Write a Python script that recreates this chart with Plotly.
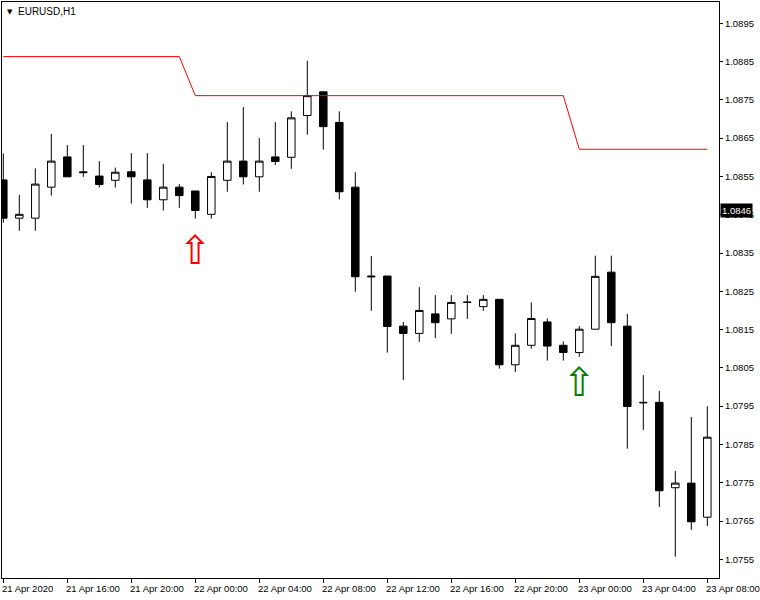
import pandas as pd
import plotly.graph_objects as go

# EURUSD H1 bars, 21 Apr 2020 12:00 .. 23 Apr 2020 08:00
times = pd.date_range("2020-04-21 12:00", periods=45, freq="h")
opens = [1.08541, 1.08441, 1.08441, 1.08522, 1.08601, 1.08562, 1.08551, 1.08540, 1.08562, 1.08541,
         1.08489, 1.08522, 1.08512, 1.08451, 1.08540, 1.08590, 1.08549, 1.08601, 1.08600, 1.08709,
         1.08771, 1.08691, 1.08522, 1.08290, 1.08290, 1.08159, 1.08140, 1.08191, 1.08178, 1.08222,
         1.08210, 1.08229, 1.08058, 1.08109, 1.08170, 1.08109, 1.08090, 1.08151, 1.08300, 1.08159,
         1.07960, 1.07960, 1.07737, 1.07749, 1.07660]
highs = [1.08610, 1.08502, 1.08571, 1.08661, 1.08632, 1.08632, 1.08590, 1.08573, 1.08611, 1.08611,
         1.08583, 1.08530, 1.08512, 1.08561, 1.08692, 1.08731, 1.08650, 1.08692, 1.08720, 1.08852,
         1.08771, 1.08720, 1.08561, 1.08342, 1.08290, 1.08170, 1.08261, 1.08240, 1.08240, 1.08240,
         1.08240, 1.08229, 1.08140, 1.08221, 1.08179, 1.08119, 1.08159, 1.08343, 1.08343, 1.08191,
         1.08031, 1.07990, 1.07781, 1.07922, 1.07950]
lows = [1.08429, 1.08408, 1.08408, 1.08500, 1.08549, 1.08549, 1.08521, 1.08521, 1.08479, 1.08468,
        1.08461, 1.08468, 1.08440, 1.08440, 1.08510, 1.08529, 1.08510, 1.08580, 1.08570, 1.08659,
        1.08620, 1.08490, 1.08249, 1.08199, 1.08090, 1.08018, 1.08118, 1.08128, 1.08139, 1.08178,
        1.08199, 1.08048, 1.08039, 1.08100, 1.08069, 1.08069, 1.08079, 1.08151, 1.08107, 1.07839,
        1.07888, 1.07687, 1.07557, 1.07627, 1.07637]
closes = [1.08441, 1.08451, 1.08530, 1.08590, 1.08549, 1.08560, 1.08529, 1.08561, 1.08549, 1.08489,
          1.08522, 1.08500, 1.08461, 1.08550, 1.08590, 1.08549, 1.08590, 1.08589, 1.08703, 1.08761,
          1.08680, 1.08510, 1.08288, 1.08288, 1.08158, 1.08140, 1.08200, 1.08168, 1.08221, 1.08221,
          1.08229, 1.08058, 1.08109, 1.08179, 1.08107, 1.08090, 1.08151, 1.08289, 1.08168, 1.07949,
          1.07959, 1.07729, 1.07749, 1.07648, 1.07869]

# indicator line (stepped level)
level = [1.08863] * 12 + [1.08761] * 24 + [1.08621] * 9

# signal arrows
buy_red_time = ["2020-04-22 00:00"]
buy_red_price = [1.08348]
buy_green_time = ["2020-04-23 00:00"]
buy_green_price = [1.08002]

last_price = 1.0846

ytick_vals = [round(1.0755 + 0.001 * k, 4) for k in range(15)]
xtick_vals = pd.date_range("2020-04-21 12:00", "2020-04-23 08:00", freq="4h")
xtick_text = ["21 Apr 2020", "21 Apr 16:00", "21 Apr 20:00", "22 Apr 00:00", "22 Apr 04:00",
              "22 Apr 08:00", "22 Apr 12:00", "22 Apr 16:00", "22 Apr 20:00", "23 Apr 00:00",
              "23 Apr 04:00", "23 Apr 08:00"]

FONT = "Liberation Sans"

fig = go.Figure()
fig.add_trace(go.Candlestick(
    x=times, open=opens, high=highs, low=lows, close=closes,
    increasing=dict(line=dict(color="black", width=1), fillcolor="white"),
    decreasing=dict(line=dict(color="black", width=1), fillcolor="black"),
    whiskerwidth=0, showlegend=False, hoverinfo="skip"))
fig.add_trace(go.Scatter(x=times, y=level, mode="lines",
                         line=dict(color="#ff0000", width=1), showlegend=False, hoverinfo="skip"))
fig.add_trace(go.Scatter(x=buy_red_time, y=buy_red_price, mode="text", text=["⇧"],
                         textfont=dict(family="DejaVu Sans", size=40, color="#ff0000"),
                         showlegend=False, hoverinfo="skip"))
fig.add_trace(go.Scatter(x=buy_green_time, y=buy_green_price, mode="text", text=["⇧"],
                         textfont=dict(family="DejaVu Sans", size=40, color="#008000"),
                         showlegend=False, hoverinfo="skip"))

annotations = []
for tv, tt in zip(xtick_vals, xtick_text):
    annotations.append(dict(x=tv, y=0, xref="x", yref="paper", text=tt, showarrow=False,
                            xanchor="left", yanchor="top", xshift=-3, yshift=-3,
                            font=dict(family=FONT, size=9.5, color="black")))
annotations.append(dict(x=1, y=last_price, xref="paper", yref="y", text="1.0846", showarrow=False,
                        xanchor="left", yanchor="middle", xshift=1, bgcolor="black", borderpad=1,
                        font=dict(family=FONT, size=9.5, color="white")))
annotations.append(dict(x=0, y=1, xref="paper", yref="paper", text="▼", showarrow=False,
                        xanchor="left", yanchor="top", xshift=3, yshift=-4,
                        font=dict(family="DejaVu Sans", size=7, color="black")))
annotations.append(dict(x=0, y=1, xref="paper", yref="paper", text="EURUSD,H1", showarrow=False,
                        xanchor="left", yanchor="top", xshift=14, yshift=-2,
                        font=dict(family=FONT, size=10, color="black")))

fig.update_layout(
    width=760, height=600,
    margin=dict(l=2, r=41, t=2, b=22),
    paper_bgcolor="white", plot_bgcolor="white",
    boxgap=0.33,
    annotations=annotations,
    xaxis=dict(type="date", range=["2020-04-21 11:55:07", "2020-04-23 08:43:52"],
               rangeslider=dict(visible=False), showgrid=False, zeroline=False,
               showline=True, linecolor="black", linewidth=1, mirror=True,
               ticks="outside", ticklen=4, tickcolor="black", tickvals=xtick_vals,
               showticklabels=False),
    yaxis=dict(side="right", range=[1.075012, 1.090056], showgrid=False, zeroline=False,
               showline=True, linecolor="black", linewidth=1, mirror=True,
               ticks="outside", ticklen=3, tickcolor="black", tickvals=ytick_vals,
               tickformat=".4f", tickfont=dict(family=FONT, size=9.5, color="black")),
)

fig.write_html("out.html", config={"displayModeBar": False},
               post_script="document.body.style.margin='0';")
